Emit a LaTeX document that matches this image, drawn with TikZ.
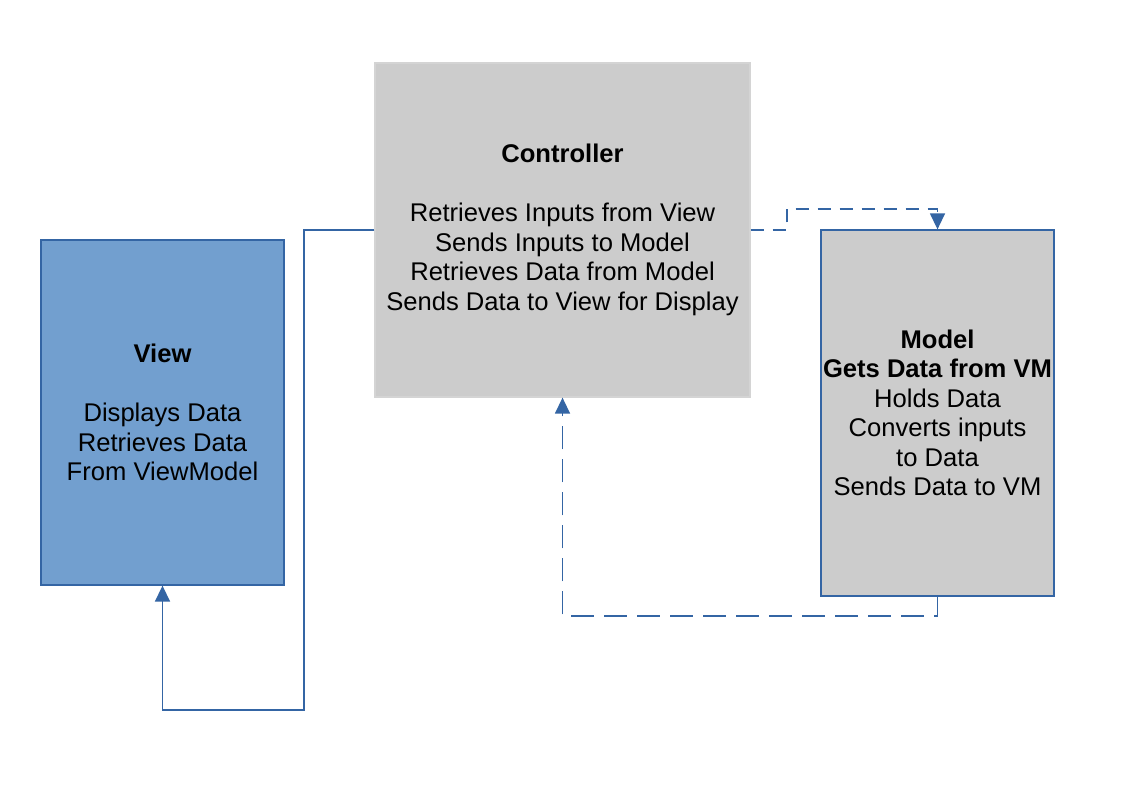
\documentclass[tikz,border=0pt]{standalone}
\usepackage{fontspec}
\setmainfont{Liberation Sans}
\usetikzlibrary{arrows.meta}
\definecolor{lineblue}{HTML}{3465A4}
\definecolor{viewblue}{HTML}{729FCF}
\definecolor{boxgray}{HTML}{CCCCCC}
\definecolor{ctrlborder}{HTML}{D4D4D4}
\tikzset{
  box/.style={rectangle, inner sep=0pt, align=center, font=\fontsize{25.6}{29.5}\selectfont, line width=1.3pt},
  conn/.style={draw=lineblue, line width=1.5pt, -{Triangle[width=15pt,length=16pt,fill=lineblue]}},
  shortdash/.style={dash pattern=on 13pt off 9pt},
  longdash/.style={dash pattern=on 23pt off 10pt},
}
\begin{document}
\begin{tikzpicture}[x=1pt,y=-1pt]
\useasboundingbox[fill=white] (0,0) rectangle (1123,794);
\node[box, fill=boxgray, draw=ctrlborder, minimum width=375pt, minimum height=334pt] (ctrl) at (562.5,230)
  {\textbf{Controller}\\[29.5pt]Retrieves Inputs from View\\Sends Inputs to Model\\Retrieves Data from Model\\Sends Data to View for Display};
\node[box, fill=viewblue, draw=lineblue, minimum width=243pt, minimum height=345pt] (view) at (162.5,412.5)
  {\textbf{View}\\[29.5pt]Displays Data\\Retrieves Data\\From ViewModel};
\node[box, fill=boxgray, draw=lineblue, minimum width=233pt, minimum height=366pt] (model) at (937.5,413)
  {\textbf{Model}\\\textbf{Gets Data from VM}\\Holds Data\\Converts inputs\hspace*{0.28em}\\to Data\\Sends Data to VM};
\coordinate (c1) at (304,230);
\coordinate (c2) at (304,710);
\coordinate (d1) at (787,230);
\coordinate (d2) at (787,209);
\coordinate (e1) at (937.5,616);
\draw[conn] (ctrl.west) -- (c1) -- (c2) -| (view.south);
\draw[conn, shortdash] (ctrl.east) -- (d1) -- (d2) -| (model.north);
\draw[conn, longdash] (model.south) -- (e1) -| (ctrl.south);
\end{tikzpicture}
\end{document}
